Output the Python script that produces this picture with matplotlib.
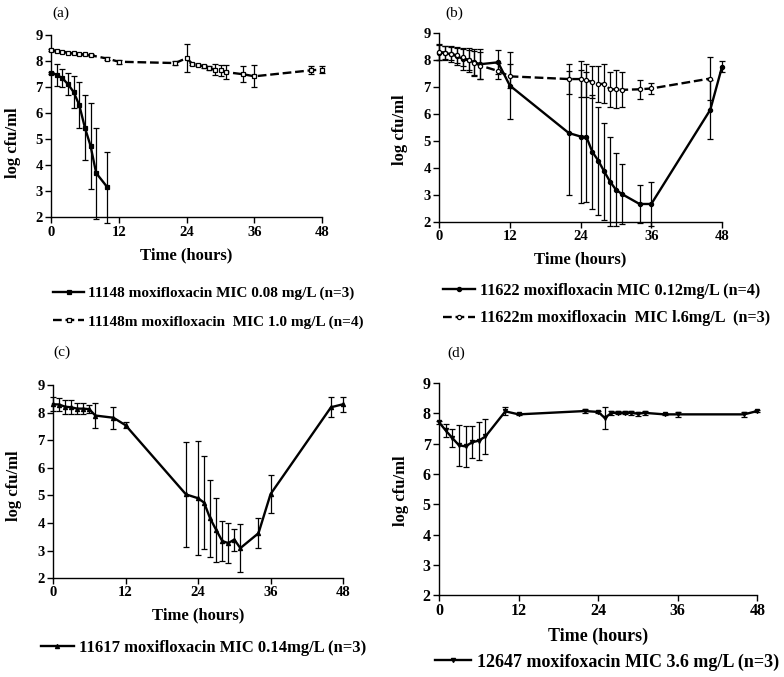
import matplotlib
matplotlib.use("Agg")
import matplotlib.pyplot as plt

plt.rcParams['font.family'] = ['Liberation Serif', 'DejaVu Serif']
plt.rcParams['font.weight'] = 'bold'

# ---- panel (a) ----
a1_t = [0, 1, 2, 3, 4, 5, 6, 7, 8, 10]
a1_y = [7.55, 7.48, 7.35, 7.12, 6.82, 6.32, 5.45, 4.75, 3.7, 3.15]
a1_e = [0.05, 0.43, 0.35, 0.43, 0.62, 0.87, 1.25, 1.65, 1.75, 1.35]
a1_label = "11148 moxifloxacin MIC 0.08 mg/L (n=3)"

a2_t = [0, 1, 2, 3, 4, 5, 6, 7, 10, 12, 22, 24, 25, 26, 27, 28, 29, 30, 31, 34, 36, 46, 48]
a2_y = [8.42, 8.4, 8.37, 8.33, 8.3, 8.28, 8.26, 8.23, 8.1, 7.98, 7.93, 8.12, 7.9, 7.85,
        7.8, 7.75, 7.68, 7.65, 7.58, 7.5, 7.42, 7.65, 7.68]
a2_e = [0.04, 0.03, 0.03, 0.03, 0.03, 0.03, 0.03, 0.03, 0.06, 0.08, 0.06, 0.55, 0.04, 0.05,
        0.06, 0.08, 0.2, 0.22, 0.27, 0.3, 0.42, 0.15, 0.12]
a2_label = "11148m moxifloxacin  MIC 1.0 mg/L (n=4)"

# ---- panel (b) ----
b1_t = [0, 1, 2, 3, 4, 5, 6, 7, 10, 12, 22, 24, 25, 26, 27, 28, 29, 30, 31, 34, 36, 46, 48]
b1_y = [8.28, 8.27, 8.22, 8.15, 8.05, 8.0, 7.92, 7.85, 7.92, 7.06, 5.3, 5.17, 5.15, 4.6,
        4.28, 3.88, 3.5, 3.2, 3.04, 2.67, 2.67, 6.16, 7.76]
b1_e = [0.27, 0.25, 0.3, 0.33, 0.4, 0.45, 0.5, 0.55, 0.45, 1.25, 2.3, 2.45, 2.4, 2.1,
        2.0, 1.8, 1.65, 1.35, 1.1, 0.72, 0.83, 1.1, 0.2]
b1_label = "11622 moxifloxacin MIC 0.12mg/L (n=4)"

b2_t = [0, 1, 2, 3, 4, 5, 6, 7, 10, 12, 22, 24, 25, 26, 27, 28, 29, 30, 31, 34, 36, 46]
b2_y = [8.3, 8.28, 8.24, 8.18, 8.1, 8.0, 7.9, 7.8, 7.6, 7.4, 7.3, 7.3, 7.25, 7.2,
        7.12, 7.12, 6.92, 6.92, 6.9, 6.92, 6.95, 7.32]
b2_e = [0.3, 0.25, 0.25, 0.28, 0.3, 0.38, 0.45, 0.5, 0.3, 0.45, 0.55, 0.68, 0.6, 0.6,
        0.68, 0.72, 0.65, 0.7, 0.65, 0.35, 0.22, 0.8]
b2_label = "11622m moxifloxacin  MIC l.6mg/L  (n=3)"

# ---- panel (c) ----
c_t = [0, 1, 2, 3, 4, 5, 6, 7, 10, 12, 22, 24, 25, 26, 27, 28, 29, 30, 31, 34, 36, 46, 48]
c_y = [8.31, 8.3, 8.22, 8.2, 8.15, 8.15, 8.13, 7.9, 7.82, 7.55, 5.04, 4.9, 4.74, 4.17,
       3.75, 3.35, 3.27, 3.4, 3.09, 3.63, 5.05, 8.2, 8.31]
c_e = [0.25, 0.25, 0.25, 0.25, 0.2, 0.2, 0.15, 0.45, 0.4, 0.12, 1.9, 2.07, 1.68, 1.4,
       1.15, 0.72, 0.72, 0.4, 0.88, 0.55, 0.7, 0.37, 0.28]
c_label = "11617 moxifloxacin MIC 0.14mg/L (n=3)"

# ---- panel (d) ----
d_t = [0, 1, 2, 3, 4, 5, 6, 7, 10, 12, 22, 24, 25, 26, 27, 28, 29, 30, 31, 34, 36, 46, 48]
d_y = [7.71, 7.44, 7.19, 6.95, 6.91, 7.05, 7.1, 7.24, 8.07, 7.97, 8.08, 8.05, 7.85, 8.02,
       8.02, 8.02, 8.02, 7.99, 8.02, 7.97, 7.97, 7.97, 8.08]
d_e = [0.05, 0.22, 0.3, 0.67, 0.67, 0.53, 0.63, 0.58, 0.13, 0.03, 0.08, 0.03, 0.36, 0.06,
       0.05, 0.05, 0.06, 0.06, 0.06, 0.03, 0.08, 0.08, 0.03]
d_label = "12647 moxifoxacin MIC 3.6 mg/L (n=3)"

xticks = [0, 12, 24, 36, 48]
yticks = [2, 3, 4, 5, 6, 7, 8, 9]

fig = plt.figure(figsize=(7.84, 6.77), dpi=100)


def make_axes(rect, tag, tag_xy, ylab_xy, tsize=10.5, lsize=12):
    ax = fig.add_axes(rect)
    ax.set_xlim(0, 48)
    ax.set_ylim(2, 9)
    ax.set_xticks(xticks)
    ax.set_yticks(yticks)
    ax.spines['top'].set_visible(False)
    ax.spines['right'].set_visible(False)
    for s in ('left', 'bottom'):
        ax.spines[s].set_linewidth(1.0)
    ax.tick_params(direction='out', length=4, width=1, labelsize=tsize, pad=2)
    for lab in ax.get_xticklabels() + ax.get_yticklabels():
        lab.set_fontweight('bold')
    ax.set_xlabel("Time (hours)", fontsize=lsize, fontweight='bold', labelpad=6)
    ax.set_ylabel("log cfu/ml", fontsize=12, fontweight='bold')
    ax.yaxis.set_label_coords(*ylab_xy)
    fig.text(tag_xy[0], tag_xy[1], tag, fontsize=11, fontweight='normal',
             va='center', ha='left')
    return ax


def series(ax, t, y, e, marker, ls, mfc, ms, label):
    ax.errorbar(t, y, yerr=e, fmt='none', ecolor='black', elinewidth=0.9,
                capsize=2.5, capthick=0.9, clip_on=False, zorder=2)
    line, = ax.plot(t, y, color='black', ls=ls, lw=1.7, marker=marker, ms=ms,
                    mfc=mfc, mec='black', mew=0.9, label=label, clip_on=False, zorder=3)
    return line


def add_legend(handles, x, y, size, spacing=0.9):
    fig.legend(handles=handles, loc='upper left', bbox_to_anchor=(x, y),
               frameon=False, handlelength=2.0, handletextpad=0.3,
               borderpad=0, borderaxespad=0, labelspacing=spacing,
               prop={'weight': 'bold', 'size': size})


ax_a = make_axes([0.065, 0.679, 0.346, 0.269], "(a)", (0.067, 0.980), (-0.112, 0.41))
la1 = series(ax_a, a1_t, a1_y, a1_e, 's', '-', 'black', 3.2, a1_label)
la2 = series(ax_a, a2_t, a2_y, a2_e, 's', '--', 'white', 3.2, a2_label)
add_legend([la1, la2], 0.068, 0.577, 11, spacing=0.95)

ax_b = make_axes([0.560, 0.672, 0.361, 0.279], "(b)", (0.568, 0.980), (-0.11, 0.49))
lb1 = series(ax_b, b1_t, b1_y, b1_e, 'o', '-', 'black', 3.0, b1_label)
lb2 = series(ax_b, b2_t, b2_y, b2_e, 'o', '--', 'white', 3.0, b2_label)
add_legend([lb1, lb2], 0.565, 0.582, 11.7, spacing=0.7)

ax_c = make_axes([0.0676, 0.146, 0.370, 0.285], "(c)", (0.068, 0.480), (-0.106, 0.48))
lc = series(ax_c, c_t, c_y, c_e, '^', '-', 'black', 3.0, c_label)
add_legend([lc], 0.052, 0.055, 12)

ax_d = make_axes([0.560, 0.121, 0.406, 0.313], "(d)", (0.570, 0.478), (-0.095, 0.495),
                 tsize=11.5, lsize=13)
ld = series(ax_d, d_t, d_y, d_e, 'v', '-', 'black', 3.0, d_label)
add_legend([ld], 0.555, 0.035, 13)

fig.savefig("out.png", dpi=100)
